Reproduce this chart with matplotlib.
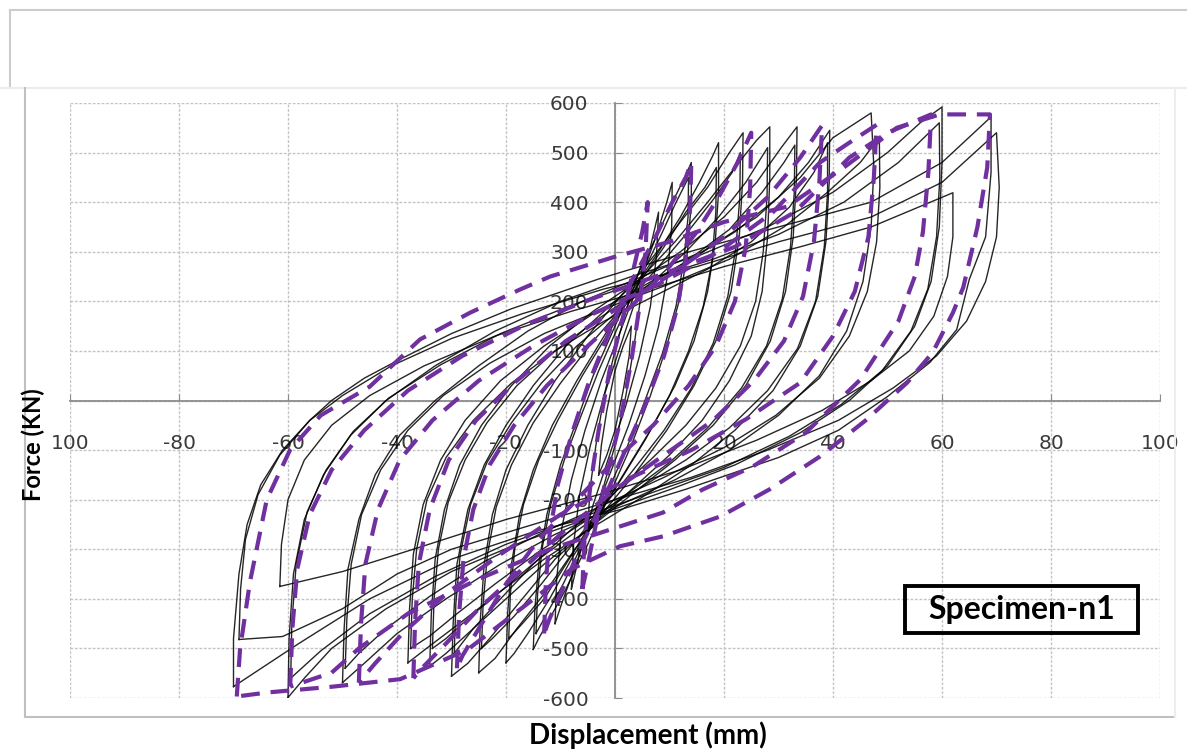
import matplotlib.pyplot as plt
from matplotlib.lines import Line2D
from matplotlib.patches import Rectangle

plt.rcParams['font.family'] = ['DejaVu Sans']

# hysteresis cycles, (displacement mm, force kN), starting at the negative peak
b3 = [(-3, -150), (-2.5, -90), (-1.5, -20), (0, 60), (1.5, 110), (3, 150),
      (2.6, 90), (1.5, 20), (0, -60), (-1.5, -110), (-3, -150)]
b5 = [(-5, -260), (-4.6, -180), (-3.5, -90), (-2, 10), (0, 100), (2, 180), (3.8, 240), (5, 280),
      (4.6, 200), (3.5, 110), (2, 10), (0, -90), (-2, -170), (-3.8, -230), (-5, -260)]
b8 = [(-8, -380), (-7.6, -290), (-6.5, -190), (-4.5, -90), (-2, 10), (1, 110), (4, 210), (6.5, 310), (8, 380),
      (7.6, 290), (6.5, 190), (4.5, 90), (2, -10), (-1, -110), (-4, -210), (-6.5, -310), (-8, -380)]
b11 = [(-11, -450), (-10.7, -360), (-9.8, -260), (-8, -160), (-5.5, -60), (-2.5, 40), (1, 140), (4.5, 240),
       (7.5, 330), (9.5, 400), (10.5, 440),
       (10.4, 350), (9.6, 250), (8, 150), (5.5, 50), (2.5, -50), (-1, -150), (-4.5, -250), (-7.5, -340),
       (-9.8, -410), (-11, -450)]
b15 = [(-15, -502), (-14.7, -420), (-14, -330), (-12.5, -230), (-10, -130), (-7, -40), (-4, 50), (0, 150),
       (4, 250), (8, 340), (11, 410), (13, 455), (14, 480),
       (14, 400), (13.3, 300), (12, 210), (9.5, 110), (6.5, 10), (3, -90), (-1, -190), (-5, -290),
       (-9, -380), (-12, -440), (-14, -480), (-15, -502)]
b15b = [(-14.5, -470), (-14.2, -390), (-13.4, -300), (-11.8, -210), (-9.3, -120), (-6.2, -30), (-3, 60),
        (1, 160), (5, 255), (8.5, 335), (11, 395), (13.5, 450),
        (13.4, 370), (12.6, 280), (11.2, 190), (8.7, 95), (5.5, 0), (2, -100), (-2, -200), (-6, -290),
        (-9.5, -370), (-12.5, -430), (-14.5, -470)]
b20 = [(-20, -529), (-19.7, -430), (-19, -330), (-17.5, -230), (-15, -140), (-11.5, -50), (-7, 40), (-2, 130),
       (3, 220), (8, 300), (12, 370), (15.5, 440), (18, 495), (19, 520),
       (19, 420), (18.4, 320), (17, 220), (14.5, 120), (11, 30), (6.5, -60), (1.5, -150), (-3.5, -240),
       (-8, -320), (-12, -400), (-16, -470), (-18.5, -510), (-20, -529)]
b20b = [(-19.5, -480), (-19.2, -390), (-18.4, -300), (-16.8, -210), (-14, -120), (-10.5, -40), (-6, 50),
        (-1, 140), (4, 230), (9, 310), (13, 380), (16.5, 430), (18.6, 470),
        (18.5, 380), (17.8, 280), (16.2, 190), (13.5, 100), (10, 10), (5.5, -80), (0.5, -170), (-4.5, -250),
        (-9, -330), (-13, -400), (-17, -450), (-19.5, -480)]
b25 = [(-25, -549), (-24.7, -440), (-24, -330), (-22.5, -230), (-20, -140), (-16, -50), (-11, 40), (-5, 130),
       (1, 210), (7, 290), (12, 360), (17, 430), (21, 500), (23.5, 540),
       (23.4, 440), (22.8, 330), (21.3, 220), (18.5, 120), (14.5, 30), (9.5, -60), (3.5, -150), (-2.5, -230),
       (-8, -310), (-13, -390), (-18, -460), (-22, -520), (-25, -549)]
b25b = [(-24.5, -500), (-24.2, -410), (-23.4, -310), (-21.8, -215), (-19, -130), (-15, -45), (-10, 35),
        (-4, 120), (2, 195), (8, 270), (13, 335), (18, 405), (21.5, 460), (23, 500),
        (22.9, 410), (22.2, 310), (20.7, 210), (18, 115), (14, 25), (9, -60), (3, -145), (-3, -225),
        (-8.5, -300), (-13.5, -370), (-18.5, -435), (-22.5, -480), (-24.5, -500)]
b30 = [(-30, -556), (-29.7, -450), (-29, -330), (-27, -220), (-24, -130), (-20, -50), (-15, 30), (-9, 110),
       (-2, 180), (5, 250), (11, 320), (17, 400), (22, 470), (26, 525), (28.4, 552),
       (28.4, 450), (28, 330), (27, 220), (25, 130), (21, 40), (16, -40), (10, -110), (3, -180), (-4, -250),
       (-11, -320), (-17, -400), (-23, -480), (-27, -530), (-30, -556)]
b30b = [(-29.5, -510), (-29.2, -410), (-28.4, -310), (-26.5, -210), (-23.5, -125), (-19, -45), (-13.5, 35),
        (-7, 110), (0, 175), (7, 240), (13, 300), (19, 370), (24, 440), (28, 510),
        (27.9, 410), (27.2, 300), (25.8, 200), (23, 110), (18.5, 25), (13, -50), (6.5, -120), (-0.5, -190),
        (-8, -260), (-15, -330), (-21, -400), (-26, -460), (-29.5, -510)]
b34 = [(-34, -536), (-33.7, -430), (-33, -320), (-31.3, -220), (-28.5, -130), (-24.5, -50), (-19, 30),
       (-12, 110), (-4, 180), (4, 240), (12, 300), (20, 370), (26, 440), (30.5, 510), (33.4, 552),
       (33.3, 450), (32.7, 330), (31.3, 220), (28.5, 120), (24, 30), (18, -50), (11, -120), (3, -190),
       (-5, -260), (-13, -330), (-20, -400), (-26, -460), (-31, -510), (-34, -536)]
b34b = [(-33.5, -500), (-33.2, -400), (-32.4, -300), (-30.6, -205), (-27.5, -120), (-23.5, -45), (-18, 30),
        (-11, 100), (-3, 165), (5, 225), (13, 280), (21, 345), (27, 420), (31, 480), (33, 515),
        (32.9, 420), (32.2, 310), (30.7, 205), (27.8, 110), (23.2, 25), (17, -55), (10, -125), (2, -190),
        (-6, -255), (-14, -320), (-21, -385), (-27, -440), (-31, -480), (-33.5, -500)]
b38 = [(-38, -529), (-37.7, -420), (-37, -310), (-35.2, -210), (-32, -120), (-27.5, -40), (-21, 40),
       (-13, 110), (-4, 175), (5, 230), (14, 285), (22, 340), (30, 410), (35.5, 480), (39.4, 545),
       (39.3, 440), (38.7, 320), (37.2, 210), (34, 110), (29, 20), (22, -60), (14, -130), (5, -195),
       (-4, -255), (-13, -320), (-21, -385), (-28, -445), (-34, -495), (-38, -529)]
b38b = [(-37.5, -500), (-37.2, -400), (-36.4, -300), (-34.5, -200), (-31, -115), (-26, -40), (-19, 35),
        (-11, 100), (-2, 160), (8, 215), (17, 265), (25, 320), (32, 390), (36.5, 460), (39, 520),
        (39, 420), (38.4, 310), (36.8, 200), (33.5, 105), (28, 20), (21, -55), (13, -120), (4, -180),
        (-5, -240), (-14, -305), (-22, -370), (-29, -430), (-34, -475), (-37.5, -500)]
b50 = [(-50, -569), (-49.7, -460), (-49, -340), (-47, -240), (-44, -150), (-39.5, -70), (-33, 0), (-25, 70),
       (-16, 140), (-6, 200), (5, 250), (16, 300), (26, 370), (34, 450), (40, 530), (47, 580),
       (47.5, 470), (47, 350), (45.5, 240), (42.5, 140), (37.5, 50), (30, -30), (21, -100), (11, -160),
       (0, -215), (-11, -270), (-21, -330), (-31, -400), (-40, -470), (-46, -530), (-50, -569)]
b50b = [(-49.5, -540), (-49.2, -440), (-48.4, -330), (-46.5, -230), (-43, -140), (-38, -60), (-31.5, 10),
        (-23, 75), (-13, 135), (-2, 185), (10, 235), (21, 285), (31, 350), (39, 420), (45, 480), (48.5, 530),
        (48.6, 430), (48, 320), (46.3, 220), (43, 130), (37.5, 45), (29.5, -30), (20, -95), (9, -155),
        (-2, -210), (-13, -265), (-24, -325), (-34, -395), (-42, -460), (-47, -510), (-49.5, -540)]
b60 = [(-60, -599), (-59.8, -480), (-59, -350), (-57, -240), (-53.5, -150), (-48.5, -70), (-42, 0), (-33, 70),
       (-22, 140), (-10, 200), (3, 250), (16, 295), (28, 350), (40, 420), (50, 500), (56, 560), (60, 592),
       (60, 480), (59.5, 350), (58, 240), (55, 150), (50, 70), (43, 0), (34, -65), (22, -130), (10, -180),
       (-3, -230), (-17, -285), (-30, -345), (-42, -420), (-52, -500), (-57, -560), (-60, -599)]
b60b = [(-61.5, -375), (-61.2, -290), (-60, -200), (-57, -120), (-52, -50), (-45, 10), (-35, 70), (-22, 130),
        (-8, 180), (8, 230), (20, 270), (34, 310), (47, 350), (62, 419),
        (62, 330), (61, 250), (58.5, 170), (54, 100), (47, 40), (38, -20), (26, -80), (12, -140), (-3, -190),
        (-20, -240), (-37, -300), (-50, -345), (-61.5, -375)]
b60c = [(-59.5, -560), (-59.3, -450), (-58.5, -330), (-56.5, -225), (-53, -140), (-48, -62), (-41.5, 5),
        (-32, 72), (-21, 135), (-8, 192), (5, 240), (18, 285), (30, 335), (42, 400), (52, 480), (59.5, 560),
        (59.6, 450), (59, 330), (57.4, 225), (54.3, 140), (49, 60), (41.5, -8), (32, -72), (20, -135),
        (7, -185), (-6, -235), (-20, -290), (-33, -355), (-45, -430), (-54, -505), (-59.5, -560)]
b70 = [(-70, -577), (-70, -480), (-69, -350), (-67.5, -250), (-65, -170), (-61, -100), (-56, -40), (-52, 0),
       (-46, 45), (-40, 80), (-30, 135), (-19, 185), (-3, 245), (12, 295), (30, 350), (47, 400), (60, 480),
       (69, 572),
       (69, 460), (68, 330), (65, 244), (62.7, 143), (57.8, 77), (50, 8), (41, -60), (30, -115), (13, -179),
       (1, -220), (-15, -265), (-30, -320), (-45, -400), (-58, -490), (-70, -577)]
b70b = [(-69, -482), (-68.7, -380), (-67.8, -280), (-65.5, -190), (-61.5, -110), (-56, -40), (-50, 10),
        (-41, 70), (-30, 125), (-17, 175), (-2, 225), (15, 270), (30, 320), (47, 370), (60, 440), (70, 540),
        (70.5, 430), (70, 330), (68, 240), (64.5, 160), (59, 90), (51, 25), (41, -40), (28, -100), (14, -155),
        (0, -200), (-15, -250), (-30, -300), (-40, -350), (-50, -420), (-61, -476), (-69, -482)]

# dashed envelope cycles
p6 = [(-6, -380), (-5.6, -280), (-4.5, -170), (-3, -60), (-1, 60), (1.5, 170), (3.5, 270), (5, 340), (6, 400),
      (5.6, 300), (4.5, 190), (3, 80), (1, -40), (-1.5, -150), (-3.5, -250), (-5, -330), (-6, -380)]
p14 = [(-13, -470), (-12.7, -370), (-12, -270), (-10.5, -170), (-8, -70), (-5, 30), (-1, 140), (3, 240),
       (7, 320), (10.5, 400), (13, 450), (14, 480),
       (13.8, 390), (13, 290), (11.5, 190), (9, 90), (5.5, -10), (1.5, -110), (-2.5, -210), (-6.5, -300),
       (-10, -390), (-12, -440), (-13, -470)]
p25 = [(-29, -540), (-28.6, -430), (-27.8, -320), (-26, -220), (-23, -130), (-18.5, -50), (-12.5, 30),
       (-5, 110), (3, 190), (10, 270), (15, 340), (19, 410), (22.5, 480), (25, 540),
       (24.8, 430), (24, 310), (22, 200), (18.5, 110), (13.5, 30), (7, -50), (0, -120), (-7, -200),
       (-14, -280), (-20, -370), (-25, -460), (-28, -515), (-29, -540)]
p38 = [(-37, -560), (-36.7, -450), (-36, -330), (-34, -220), (-30.5, -120), (-25.5, -40), (-18, 40),
       (-9, 120), (1, 190), (11, 260), (20, 330), (28, 410), (34, 490), (38, 555),
       (37.5, 440), (36.5, 320), (34.5, 210), (31, 120), (25.5, 40), (18, -40), (9, -110), (0, -180),
       (-9, -260), (-17, -340), (-25, -420), (-31, -490), (-35, -535), (-37, -560)]
p48 = [(-47, -569), (-46.6, -450), (-45.8, -330), (-43.5, -220), (-39.5, -120), (-33.5, -40), (-25, 40),
       (-15, 110), (-4, 175), (8, 235), (19, 300), (29, 380), (37.6, 480), (43, 520), (48, 556),
       (47.5, 450), (46.5, 330), (44, 220), (40, 130), (34, 36), (24, -38), (14, -100), (2, -160),
       (-10, -230), (-21, -310), (-31, -390), (-39, -470), (-44, -530), (-47, -569)]
p58 = [(-59.6, -577), (-59.2, -460), (-58.3, -340), (-56, -230), (-52, -140), (-46, -60), (-38, 20), (-28, 90),
       (-16, 155), (-3, 210), (10, 260), (22, 310), (33, 380), (43, 490), (50, 540), (58, 577),
       (57.5, 460), (56.5, 340), (55, 250), (52, 160), (45, 42), (35, -65), (25.3, -133), (16, -180),
       (8.8, -226), (0.9, -254), (-12, -300), (-25, -360), (-38, -430), (-47, -500), (-52, -549),
       (-59.6, -577)]
p70 = [(-69.4, -597), (-68.8, -502), (-67, -367), (-63.9, -200), (-59.6, -99), (-54, -30), (-45, 28),
       (-35.8, 123), (-26.6, 177), (-17.4, 224), (-11.9, 250), (0, 290), (10, 320), (20, 360), (31.6, 391),
       (42, 470), (51.7, 550), (59.6, 577), (68.8, 577),
       (68.3, 470), (66.5, 350), (63.9, 228), (62, 177), (58.3, 97), (53.6, 36), (46, -40), (37.6, -113),
       (28.4, -179), (19.3, -234), (8.8, -274), (0.9, -294), (-8, -340), (-15, -401), (-27, -502),
       (-39.4, -562), (-51.7, -577), (-63.9, -589), (-69.4, -597)]

black_loops = [b3, b5, b8, b11, b15, b15b, b20, b20b, b25, b25b, b30, b30b, b34, b34b, b38, b38b,
               b50, b50b, b60, b60b, b60c, b70, b70b]
purple_loops = [p6, p14, p25, p38, p48, p58, p70]

x_ticks = [-100, -80, -60, -40, -20, 0, 20, 40, 60, 80, 100]
x_labels = ['100', '-80', '-60', '-40', '-20', '', '20', '40', '60', '80', '100']
y_ticks = [-600, -500, -400, -300, -200, -100, 0, 100, 200, 300, 400, 500, 600]
y_labels = ['-600', '-500', '-400', '-300', '-200', '-100', '', '100', '200', '300', '400', '500', '600']

W, H = 1187, 751
fig = plt.figure(figsize=(W / 100, H / 100), dpi=100)
ax = fig.add_axes([70 / W, 1 - 698 / H, 1090 / W, 595 / H])

for loop in black_loops:
    xs, ys = zip(*loop)
    ax.plot(xs, ys, color='black', lw=1.0, alpha=0.85, zorder=3)
for loop in purple_loops:
    xs, ys = zip(*loop)
    ax.plot(xs, ys, color='#7030a0', lw=3, dashes=(4.5, 2.6), zorder=4)

ax.set_xlim(-100, 100)
ax.set_ylim(-600, 600)
ax.set_xticks(x_ticks)
ax.set_xticklabels(x_labels)
ax.set_yticks(y_ticks)
ax.set_yticklabels(y_labels)

ax.spines['left'].set_position('zero')
ax.spines['bottom'].set_position('zero')
for side in ['left', 'bottom']:
    ax.spines[side].set_color('#8c8c8c')
    ax.spines[side].set_linewidth(1.3)
ax.spines['top'].set_visible(False)
ax.spines['right'].set_visible(False)

ax.grid(True, color='#c4c4c4', lw=1.0, linestyle=(0, (2, 1.2)))
ax.set_axisbelow(True)
ax.tick_params(axis='x', direction='in', length=5, color='#8c8c8c', labelsize=14.5,
               labelcolor='#3a3a3a', pad=24)
ax.tick_params(axis='y', direction='in', length=5, color='#8c8c8c', labelsize=14.5,
               labelcolor='#3a3a3a', pad=19)

# axis titles
fig.text(33 / W, 1 - 445 / H, 'Force (KN)', rotation=90, ha='center', va='center',
         fontsize=17, fontweight='bold', family='Lato')
fig.text(648 / W, 1 - 735 / H, 'Displacement (mm)', ha='center', va='center',
         fontsize=20, fontweight='bold', family='Lato')

# specimen tag
fig.patches.append(Rectangle((905 / W, 1 - 633 / H), 233 / W, 47 / H, transform=fig.transFigure,
                             fill=False, ec='black', lw=2.8))
fig.text(1022 / W, 1 - 609 / H, 'Specimen-n1', ha='center', va='center',
         fontsize=23, fontweight='bold', family='Lato')

# panel frame
def frame(x0, y0, x1, y1, c, lw=1.5):
    fig.add_artist(Line2D([x0 / W, x1 / W], [1 - y0 / H, 1 - y1 / H], color=c, lw=lw))

frame(10, 10, W, 10, '#cccccc')
frame(10, 10, 10, 88, '#cccccc')
frame(0, 88, W, 88, '#ececec')
frame(25, 88, 25, 717, '#c0c0c0')
frame(25, 717, 1175, 717, '#c0c0c0')
frame(1175, 88, 1175, 717, '#ededed')

fig.savefig('out.png', dpi=100)
